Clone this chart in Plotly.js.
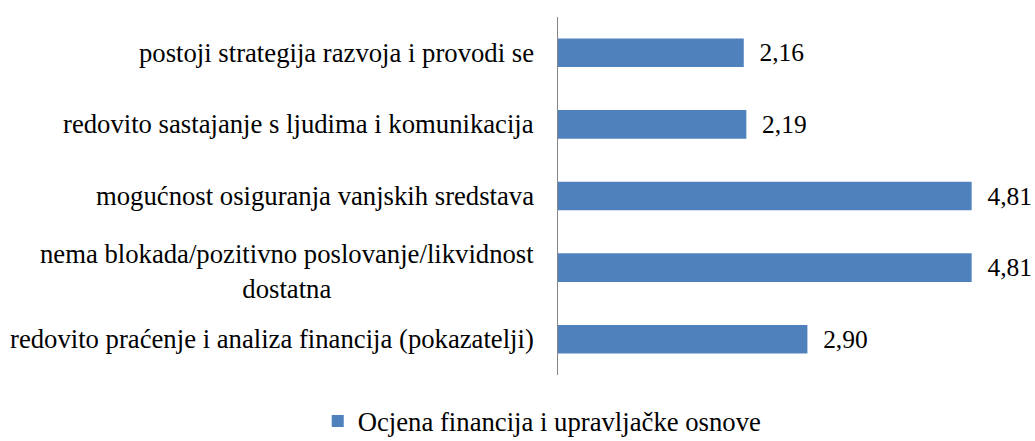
<!DOCTYPE html>
<html>
<head>
<meta charset="utf-8">
<script src="https://cdn.plot.ly/plotly-3.0.1.min.js"></script>
<style>html,body{margin:0;padding:0;background:#fff;}#chart{width:1035px;height:441px;}</style>
</head>
<body>
<div id="chart"></div>
<script>
const categories = [
  "redovito praćenje i analiza financija (pokazatelji)",
  "nema blokada/pozitivno poslovanje/likvidnost<br>dostatna",
  "mogućnost osiguranja vanjskih sredstava",
  "redovito sastajanje s ljudima i komunikacija",
  "postoji strategija razvoja i provodi se"
];
const values = [2.90, 4.81, 4.81, 2.19, 2.16];
const seriesName = "Ocjena financija i upravljačke osnove";

const serifFamily = "Liberation Serif";
const FS = 26.7;

const trace = {
  type: "bar",
  orientation: "h",
  y: categories,
  x: values,
  name: seriesName,
  marker: {color: "#4F81BD"},
  texttemplate: "\u00a0\u00a0%{x:.2f}",
  textposition: "outside",
  cliponaxis: false,
  textfont: {family: serifFamily, size: FS, color: "#000000"},
  hoverinfo: "none"
};

const annotations = categories.map(c => ({
  xref: "paper", yref: "y", x: 0, y: c,
  text: c, showarrow: false, xanchor: "right", yanchor: "middle",
  align: "center", xshift: -22, yshift: c.indexOf("<br>") >= 0 ? -4 : 0,
  font: {family: serifFamily, size: FS, color: "#000000"}
}));

const layout = {
  width: 1035, height: 441,
  margin: {l: 557.5, r: 46.5, t: 17, b: 66},
  paper_bgcolor: "#ffffff", plot_bgcolor: "#ffffff",
  separators: ", ",
  bargap: 0.6,
  showlegend: true,
  font: {family: serifFamily, size: FS, color: "#000000"},
  xaxis: {range: [0, 5], showgrid: false, zeroline: false, showticklabels: false, showline: false, fixedrange: true},
  yaxis: {showticklabels: false, ticks: "", showline: true, linecolor: "#868686", linewidth: 1.5, showgrid: false, zeroline: false, fixedrange: true},
  legend: {orientation: "h", xref: "container", yref: "container", x: 0.307, xanchor: "left", y: 0.045, yanchor: "middle",
           font: {family: serifFamily, size: FS, color: "#000000"}},
  annotations: annotations
};

Plotly.newPlot("chart", [trace], layout, {displayModeBar: false, staticPlot: true});
</script>
</body>
</html>
